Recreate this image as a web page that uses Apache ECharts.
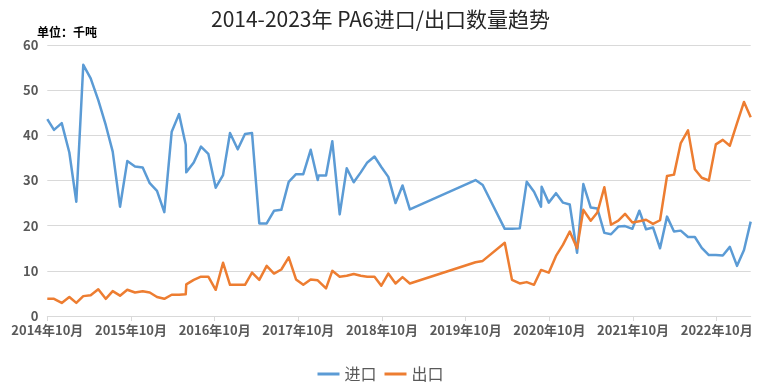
<!DOCTYPE html>
<html>
<head>
<meta charset="utf-8">
<script src="https://cdn.jsdelivr.net/npm/echarts@6/dist/echarts.min.js"></script>
<style>html,body{margin:0;padding:0;background:#fff}#c{width:761px;height:391px}</style>
</head>
<body>
<div id="c"></div>
<script>
// x positions: months after 2014-10
const monthOffsets = [0.00,0.96,2.07,3.16,4.16,5.16,6.22,7.31,8.38,9.38,10.43,11.47,12.58,13.68,14.69,15.73,16.78,17.84,18.89,19.85,19.93,21.00,22.04,23.09,24.15,25.20,26.20,27.31,28.35,29.36,30.40,31.46,32.51,33.56,34.62,35.67,36.71,37.77,38.78,38.92,39.97,40.87,41.93,42.94,43.94,44.95,45.89,46.92,47.90,48.90,49.94,50.94,51.99,61.41,62.44,65.60,66.64,67.75,68.75,69.80,70.80,70.89,71.91,72.95,73.96,74.92,75.97,76.87,77.93,78.88,79.88,80.84,81.89,82.85,83.90,84.90,85.86,86.86,87.87,88.87,89.87,90.84,91.88,92.86,93.85,94.87,95.87,96.87,97.88,98.91,99.91,100.87];
const importVals = [43.6,41.2,42.7,36.2,25.3,55.6,52.6,47.8,42.3,36.4,24.2,34.3,33.1,32.9,29.4,27.7,23.0,40.8,44.7,37.9,31.8,34.0,37.5,35.9,28.4,31.2,40.5,36.9,40.3,40.5,20.5,20.5,23.3,23.5,29.7,31.4,31.4,36.8,30.1,31.1,31.1,38.7,22.5,32.7,29.6,31.8,34.0,35.3,33.0,30.8,25.0,28.9,23.6,30.1,29.0,19.3,19.3,19.4,29.7,27.5,24.2,28.6,25.1,27.2,25.1,24.7,14.0,29.2,24.0,23.8,18.4,18.1,19.8,19.9,19.3,23.3,19.2,19.6,15.0,22.0,18.7,18.9,17.5,17.5,15.1,13.5,13.5,13.4,15.3,11.1,14.6,20.9];
const exportVals = [3.8,3.8,2.9,4.2,2.9,4.4,4.6,5.9,3.8,5.5,4.5,5.8,5.2,5.5,5.2,4.2,3.8,4.7,4.7,4.8,7.0,8.0,8.7,8.7,5.8,11.8,6.9,6.9,6.9,9.6,8.0,11.1,9.4,10.3,13.0,8.1,6.9,8.1,7.9,8.3,6.1,10.0,8.7,8.9,9.3,8.9,8.7,8.7,6.7,9.4,7.2,8.6,7.2,11.9,12.2,16.2,8.0,7.2,7.5,6.9,10.2,9.9,9.6,13.3,15.8,18.7,15.0,23.5,21.1,22.9,28.5,20.2,21.1,22.6,20.7,21.0,21.3,20.4,21.2,31.0,31.3,38.3,41.1,32.5,30.6,30.0,38.0,39.0,37.7,42.7,47.4,44.0];
const xTickValues = [0,12,24,36,48,60,72,84,96];
const xTickLabels = ['2014年10月','2015年10月','2016年10月','2017年10月','2018年10月','2019年10月','2020年10月','2021年10月','2022年10月'];
const seriesNames = ['进口','出口'];
const titleText = '2014-2023年 PA6进口/出口数量趋势';
const unitText = '单位：千吨';

const chart = echarts.init(document.getElementById('c'));
const pair = vals => vals.map((v,i)=>[monthOffsets[i], v]);
const labFont = "'Liberation Sans Narrow','Noto Sans CJK SC',sans-serif";
chart.setOption({
  animation:false,
  title:[
    {text:titleText,left:'center',top:4,textStyle:{fontFamily:"'Noto Sans CJK SC',sans-serif",fontSize:21,fontWeight:'normal',color:'#262626'}},
    {text:unitText,left:32,top:21,textStyle:{fontFamily:"'Noto Sans CJK SC',sans-serif",fontSize:12,fontWeight:'bold',color:'#000'}}
  ],
  legend:{
    bottom:4,left:'center',icon:'rect',itemWidth:22,itemHeight:3,itemGap:8,
    textStyle:{fontFamily:"'Noto Sans CJK SC',sans-serif",fontSize:16,color:'#595959'},
    data:seriesNames
  },
  grid:{left:47.3,right:10.3,top:45,bottom:75,containLabel:false},
  xAxis:{
    type:'value',min:0,max:100.87,
    axisLine:{lineStyle:{color:'#D9D9D9',width:1}},
    axisTick:{show:true,length:5,lineStyle:{color:'#D9D9D9'},customValues:xTickValues},
    axisLabel:{customValues:xTickValues,margin:8,fontFamily:labFont,fontSize:13,fontWeight:'bold',color:'#595959',
      formatter:v=>xTickLabels[xTickValues.indexOf(Math.round(v))]||''},
    splitLine:{show:false}
  },
  yAxis:{
    type:'value',min:0,max:60,interval:10,
    axisLine:{show:false},axisTick:{show:false},
    axisLabel:{margin:9,fontFamily:labFont,fontSize:13,fontWeight:'bold',color:'#595959'},
    splitLine:{lineStyle:{color:'#D9D9D9',width:1}}
  },
  series:[
    {name:seriesNames[0],type:'line',data:pair(importVals),symbol:'none',lineStyle:{color:'#5B9BD5',width:2.5,join:'round'},itemStyle:{color:'#5B9BD5'}},
    {name:seriesNames[1],type:'line',data:pair(exportVals),symbol:'none',lineStyle:{color:'#ED7D31',width:2.5,join:'round'},itemStyle:{color:'#ED7D31'}}
  ]
});
</script>
</body>
</html>
